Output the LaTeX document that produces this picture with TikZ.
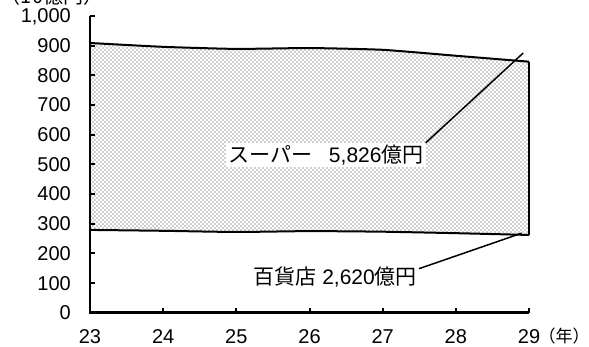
\documentclass[tikz,border=0pt]{standalone}
\usepackage{fontspec}
\setmainfont{Liberation Sans}
\newfontfamily\jp{Noto Sans CJK JP}
\usetikzlibrary{patterns, positioning}

% dotted fill like the spreadsheet's 25% pattern
\pgfdeclarepatternformonly{chartdots}{\pgfqpoint{-1pt}{-1pt}}{\pgfqpoint{5pt}{5pt}}{\pgfqpoint{4pt}{4pt}}{
    \pgfpathcircle{\pgfqpoint{1pt}{1pt}}{0.95pt}
    \pgfpathcircle{\pgfqpoint{3pt}{3pt}}{0.95pt}
    \pgfusepath{fill}}

\begin{document}
\begin{tikzpicture}[x=1pt, y=1pt,
    axis/.style={line width=2.4pt},
    series/.style={line width=2pt, line join=round},
    ticklab/.style={font=\fontsize{20}{22}\selectfont, inner sep=0pt, text depth=0pt},
    callout/.style={inner sep=2pt, font=\fontsize{21}{24}\selectfont}]

    \useasboundingbox (0,0) rectangle (589,347);
    \node (unit) [ticklab, anchor=base] at (52,343) {\jp （10億円）};

    \begin{scope}[shift={(90,34.3)}, x=73.17pt, y=0.2967pt]
    % shaded band between the two series
    \fill[pattern=chartdots, pattern color=black!38] plot[smooth, tension=0.3] coordinates {(0,279) (1,276) (2,272) (3,275) (4,273) (5,268) (6,262)}
        -- plot[smooth, tension=0.3] coordinates {(6,846) (5,866) (4,886) (3,892) (2,889) (1,896) (0,909)} -- cycle;
    \draw[series] plot[smooth, tension=0.3] coordinates {(0,279) (1,276) (2,272) (3,275) (4,273) (5,268) (6,262)};
    \draw[series] plot[smooth, tension=0.3] coordinates {(0,909) (1,896) (2,889) (3,892) (4,886) (5,866) (6,846)};
    \draw[series] (6,262) -- (6,846);

    % axes
    \draw[axis] (0,1000) -- (0,0) -- (6,0);
    \foreach \v [count=\k from 0] in {0,100,...,1000} {
        \draw[line width=2pt] (0,\v) -- ++(5pt,0);
        \node (ylab\k) [ticklab, anchor=east, xshift=-19pt] at (0,\v) {\ifnum\v=1000 1,000\else\v\fi};
    }
    \foreach \yr [count=\k from 0] in {23,...,29} {
        \draw[line width=2pt] (\k,0) -- ++(0,5pt);
        \node (x\yr) [ticklab, yshift=-24pt] at (\k,0) {\yr};
    }
    \node (unitx) [ticklab, base right=-2pt of x29, yshift=1.5pt, font=\fontsize{17}{20}\selectfont\jp] {（年）};

    % callouts
    \coordinate (suptip) at (5.92,875);
    \coordinate (deptip) at (5.90,268);
    \node (sup) [callout, fill=white] at (3.225,531) {{\jp スーパー}\hspace{0.8em}5,826{\jp 億円}};
    \node (dep) [callout] at (3.35,120) {{\jp 百貨店} 2,620{\jp 億円}};
    \draw[line width=1.5pt] (sup.north east) -- (suptip);
    \draw[line width=1.5pt] ([yshift=-4pt]dep.north east) -- (deptip);
    \end{scope}

\end{tikzpicture}
\end{document}
